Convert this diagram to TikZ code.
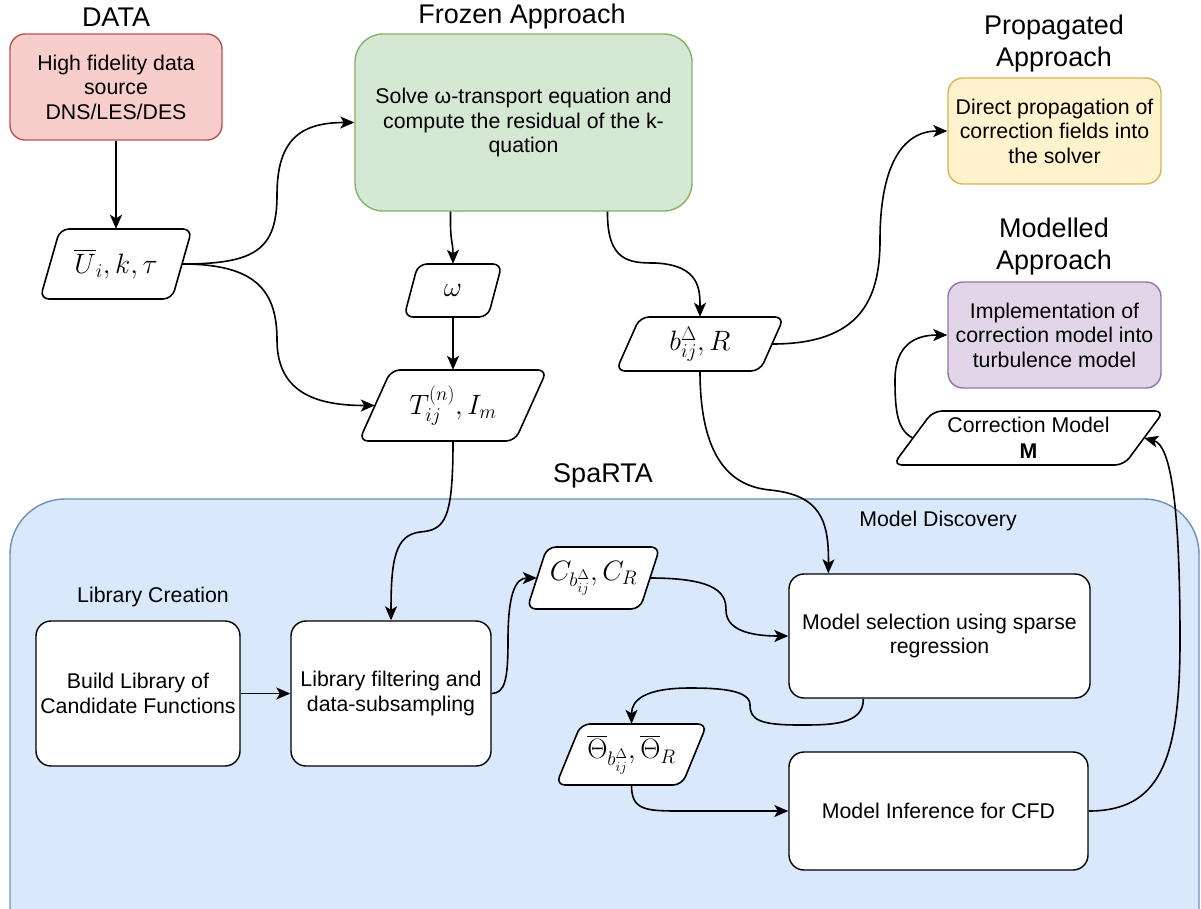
\RequirePackage{fix-cm}
\documentclass[tikz,border=0pt]{standalone}
\usepackage{exscale}
\usepackage[no-math]{fontspec}
\setmainfont{Liberation Sans}
\usetikzlibrary{arrows.meta,calc}
\definecolor{redfill}{HTML}{F8CECC}\definecolor{redline}{HTML}{B85450}
\definecolor{greenfill}{HTML}{D5E8D4}\definecolor{greenline}{HTML}{82B366}
\definecolor{yellowfill}{HTML}{FFF2CC}\definecolor{yellowline}{HTML}{D6B656}
\definecolor{purplefill}{HTML}{E1D5E7}\definecolor{purpleline}{HTML}{9673A6}
\definecolor{bluefill}{HTML}{DAE8FC}\definecolor{blueline}{HTML}{6C8EBF}
% parallelogram: name, cx, cy, mid-width, height, half-slant, text
\newcommand\paranode[7]{%
  \draw[parashape] ({#2-#4/2-#6},{#3+#5/2}) -- ({#2-#4/2+#6},{#3-#5/2}) -- ({#2+#4/2+#6},{#3-#5/2}) -- ({#2+#4/2-#6},{#3+#5/2}) -- cycle;
  \node[paratext, minimum width=#4*1pt, minimum height=#5*1pt] (#1) at (#2,#3) {#7};}
\begin{document}
\begin{tikzpicture}[x=1pt,y=-1pt,
  title/.style={font=\fontsize{27}{32}\selectfont, align=center, inner sep=0pt},
  lbl/.style={font=\fontsize{21.3}{24}\selectfont, align=center, inner sep=0pt},
  rbox/.style={draw, line width=1.4pt, rounded corners=15pt, align=center, inner sep=0pt, font=\fontsize{21.3}{24.5}\selectfont},
  wbox/.style={rbox, fill=white, draw=black},
  parashape/.style={draw=black, fill=white, line width=1.6pt, rounded corners=9pt},
  paratext/.style={inner sep=0pt, font=\fontsize{28}{30}\selectfont, align=center},
  conn/.style={-{Stealth[length=14pt,width=12pt,inset=3.5pt]}, line width=1.6pt}]
\useasboundingbox (0,0) rectangle (1201,908);
\clip (0,0) rectangle (1201,908);
\fill[white] (0,0) rectangle (1201,908);

% container
\draw[fill=bluefill, draw=blueline, line width=1.4pt, rounded corners=55pt] (10,499) rectangle (1199,980);

% titles
\node[title] (tdata) at (116,17) {DATA};
\node[title] (tfrozen) at (522,17) {Frozen Approach};
\node[title] (tprop) at (1054,44) {Propagated\\Approach};
\node[title] (tmod) at (1054,247) {Modelled\\Approach};
\node[title] (tsparta) at (603,476) {SpaRTA};
\node[lbl] (tdisc) at (938,521) {Model Discovery};
\node[lbl] (tlib) at (153,597) {Library Creation};

% boxes
\node[rbox, fill=redfill, draw=redline, minimum width=212pt, minimum height=106pt] (data) at (116,87) {High fidelity data\\source\\DNS/LES/DES};
\node[rbox, fill=greenfill, draw=greenline, rounded corners=28pt, minimum width=337pt, minimum height=177pt] (green) at (523.5,122.5) {Solve ω-transport equation and\\compute the residual of the k-\\quation};
\node[rbox, fill=yellowfill, draw=yellowline, minimum width=213pt, minimum height=106pt] (prop) at (1054.5,131) {Direct propagation of\\correction fields into\\the solver};
\node[rbox, fill=purplefill, draw=purpleline, minimum width=213pt, minimum height=106pt] (impl) at (1054.5,335) {Implementation of\\correction model into\\turbulence model};
\node[wbox, minimum width=204pt, minimum height=145pt] (build) at (138,693.5) {Build Library of\\Candidate Functions};
\node[wbox, minimum width=200pt, minimum height=145pt] (filter) at (391,693.5) {Library filtering and\\data-subsampling};
\node[wbox, minimum width=301pt, minimum height=124pt] (select) at (939.5,636) {Model selection using sparse\\regression};
\node[wbox, minimum width=299pt, minimum height=118pt] (infer) at (938.5,811) {Model Inference for CFD};

% parallelograms
\paranode{U}{116}{264}{132}{70}{10}{$\overline{U}_i,k,\tau$}
\paranode{om}{453}{290.5}{84}{53}{7}{$\omega$}
\paranode{T}{453}{405.5}{156}{71}{16}{$T_{ij}^{(n)},I_m$}
\paranode{b}{700}{344}{144}{54}{12}{$b_{ij}^{\Delta},R$}
\paranode{C}{593.5}{578}{113}{62}{10}{$C_{b_{ij}^{\Delta}},C_R$}
\paranode{Th}{631.5}{754.5}{126}{61}{12.5}{$\overline{\Theta}_{b_{ij}^{\Delta}},\overline{\Theta}_R$}
\paranode{CM}{1028.5}{438}{231}{54}{20}{\fontsize{21.3}{22}\selectfont Correction Model\\[-4pt]\fontsize{21.3}{22}\selectfont\bfseries M}

% connectors
\draw[conn] (data.south) -- (U.north);
\draw[conn] (U.east) .. controls (255,264) and (277,250) .. (277,195) .. controls (277,140) and (300,122.5) .. (green.west);
\draw[conn] (U.east) .. controls (255,264) and (277,290) .. (277,340) .. controls (277,395) and (320,405.5) .. (T.west);
\draw[conn] ($(green.south)+(-73,0)$) .. controls (450,245) and (453,240) .. (om.north);
\draw[conn] (om.south) -- (T.north);
\draw[conn] ($(green.south)+(84,0)$) .. controls (607,262) and (630,263) .. (655,263) .. controls (700,265) and (700,290) .. (b.north);
\draw[conn] (b.east) .. controls (860,344) and (880,300) .. (880,240) .. controls (880,170) and (900,131) .. (prop.west);
\draw[conn] (b.south) .. controls (700,470) and (740,487) .. (770,490) .. controls (820,495) and (829,520) .. ($(select.north west)+(40,0)$);
\draw[conn] (T.south) .. controls (453,520) and (445,530) .. (420,532) .. controls (395,535) and (391,560) .. (filter.north);
\draw[conn] (build.east) -- (filter.west);
\draw[conn] (filter.east) .. controls (505,693) and (508,680) .. (508,640) .. controls (508,595) and (515,578) .. (C.west);
\draw[conn] (C.east) .. controls (720,578) and (726,595) .. (726,610) .. controls (726,630) and (750,636) .. (select.west);
\draw[conn] ($(select.south west)+(75,0)$) .. controls (864,725) and (830,725) .. (800,725) .. controls (760,725) and (750,720) .. (750,705) .. controls (750,690) and (720,688) .. (690,688) .. controls (645,688) and (631.5,700) .. (Th.north);
\draw[conn] (Th.south) .. controls (631.5,810) and (645,811) .. (680,811) -- (infer.west);
\draw[conn] (infer.east) .. controls (1160,811) and (1180,760) .. (1180,640) .. controls (1180,500) and (1170,445) .. (CM.east);
\draw[conn] (CM.west) .. controls (897,430) and (895,410) .. (895,380) .. controls (895,345) and (915,335) .. (impl.west);
\end{tikzpicture}
\end{document}
